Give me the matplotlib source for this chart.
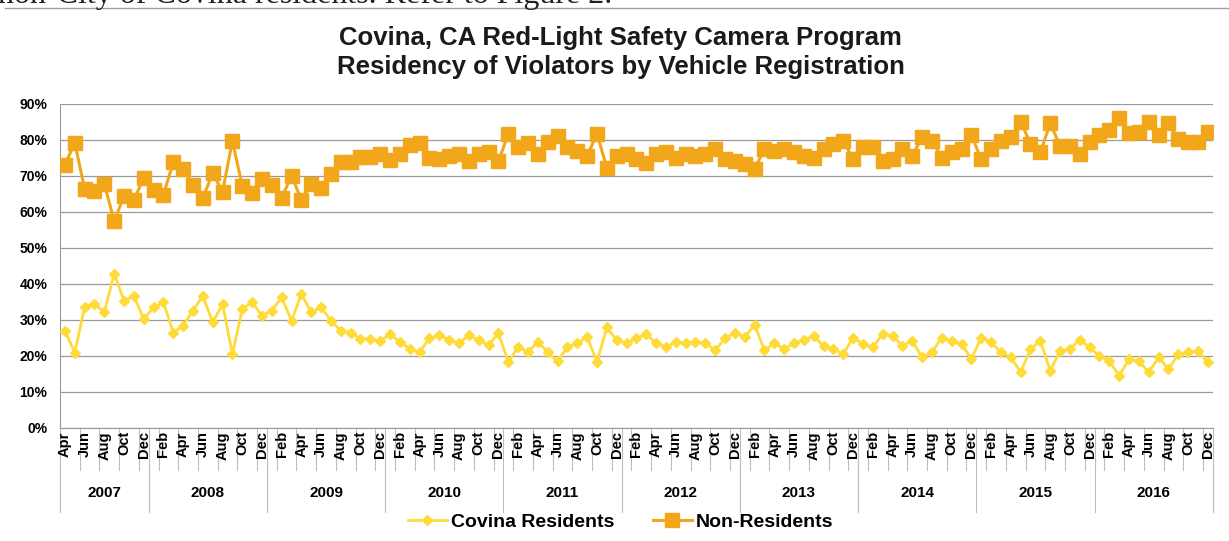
import matplotlib
matplotlib.use('Agg')
import matplotlib.pyplot as plt
import matplotlib.transforms as mtransforms
from matplotlib.lines import Line2D

# monthly shares, Apr 2007 .. Dec 2016 (percent)
years = [2007, 2008, 2009, 2010, 2011, 2012, 2013, 2014, 2015, 2016]
month_names = ['Jan', 'Feb', 'Mar', 'Apr', 'May', 'Jun',
               'Jul', 'Aug', 'Sep', 'Oct', 'Nov', 'Dec']
first_month = 3  # April 2007

non_residents = [
    73.1, 79.2, 66.4, 65.8, 67.8, 57.5, 64.3, 63.4, 69.3,                    # 2007
    66.2, 64.8, 73.8, 71.9, 67.6, 63.9, 70.7, 65.6, 79.7, 67.2, 65.3, 69.1,  # 2008
    67.6, 63.9, 70.0, 63.4, 67.8, 66.7, 70.5, 73.8, 73.8, 75.2, 75.2, 76.1,  # 2009
    74.4, 76.1, 78.5, 79.0, 75.0, 74.6, 75.5, 76.0, 74.0, 76.0, 76.5, 74.0,  # 2010
    81.7, 78.0, 79.0, 76.0, 79.3, 81.2, 78.0, 77.0, 75.5, 81.7, 72.3, 75.5,  # 2011
    76.0, 74.6, 73.7, 76.0, 76.5, 75.0, 76.0, 75.5, 76.0, 77.5, 74.6, 74.0,  # 2012
    73.2, 71.8, 77.5, 77.0, 77.5, 76.5, 75.6, 75.1, 77.5, 78.9, 79.8, 74.6,  # 2013
    78.0, 78.0, 74.2, 74.6, 77.5, 75.6, 80.8, 79.8, 75.1, 76.5, 77.5, 81.3,  # 2014
    74.6, 77.5, 79.8, 80.8, 85.1, 78.9, 76.5, 84.6, 78.4, 78.4, 76.1, 79.4,  # 2015
    81.3, 82.7, 86.0, 81.8, 82.2, 85.1, 81.3, 84.6, 80.3, 79.4, 79.4, 82.2,  # 2016
]

residents = [
    27.0, 20.9, 33.5, 34.4, 32.1, 42.8, 35.3, 36.7, 30.2,                    # 2007
    33.5, 34.9, 26.5, 28.4, 32.6, 36.7, 29.3, 34.4, 20.5, 33.0, 34.9, 31.2,  # 2008
    32.6, 36.3, 29.8, 37.2, 32.1, 33.5, 29.8, 27.0, 26.5, 24.7, 24.7, 24.2,  # 2009
    26.0, 23.9, 22.0, 21.0, 24.9, 25.8, 24.4, 23.5, 25.8, 24.4, 23.0, 26.3,  # 2010
    18.3, 22.5, 21.1, 23.9, 21.1, 18.5, 22.5, 23.5, 25.3, 18.3, 27.9, 24.4,  # 2011
    23.5, 24.9, 26.0, 23.5, 22.5, 23.9, 23.5, 23.9, 23.5, 21.6, 24.9, 26.3,  # 2012
    25.3, 28.6, 21.6, 23.5, 22.0, 23.5, 24.5, 25.4, 22.8, 21.9, 20.5, 25.1,  # 2013
    23.3, 22.4, 26.1, 25.6, 22.8, 24.2, 19.6, 21.0, 25.1, 24.2, 23.3, 19.1,  # 2014
    25.1, 23.8, 21.0, 19.6, 15.5, 21.9, 24.2, 15.9, 21.4, 21.9, 24.5, 22.4,  # 2015
    20.0, 18.6, 14.5, 19.1, 18.6, 15.4, 19.6, 16.3, 20.5, 21.0, 21.4, 18.2,  # 2016
]

yticks = [0, 10, 20, 30, 40, 50, 60, 70, 80, 90]

NR_COLOR = '#F2A71B'
RES_COLOR = '#FFDB3A'
GRID = '#9a9a9a'
BOLD = {'family': 'Liberation Sans', 'weight': 'bold'}
NARROW = ['Liberation Sans Narrow', 'Liberation Sans']

n = len(non_residents)
x = list(range(n))
months = [month_names[(first_month + i) % 12] for i in x]

fig = plt.figure(figsize=(12.29, 5.41), dpi=100)
ax = fig.add_axes([0.0488, 0.209, 0.938, 0.599])

ax.plot(x, residents, color=RES_COLOR, lw=2.0, marker='D', ms=5,
        mec=RES_COLOR, mfc=RES_COLOR, label='Covina Residents', zorder=3)
ax.plot(x, non_residents, color=NR_COLOR, lw=2.2, marker='s', ms=9.5,
        mec=NR_COLOR, mfc=NR_COLOR, label='Non-Residents', zorder=4)

ax.set_xlim(-0.5, n - 0.5)
ax.set_ylim(0, 90)
ax.set_yticks(yticks)
ax.set_yticklabels([f'{v}%' for v in yticks], fontdict=dict(BOLD, size=10))
ax.tick_params(axis='y', length=0, pad=9)
ax.grid(axis='y', color=GRID, lw=0.9)
ax.set_axisbelow(True)
for side in ('top', 'right'):
    ax.spines[side].set_visible(False)
ax.spines['left'].set_color(GRID)
ax.spines['bottom'].set_color(GRID)

# category axis: every other month label, year labels under them
ax.set_xticks([])
trans = mtransforms.blended_transform_factory(ax.transData, ax.transAxes)
for i in range(0, n, 2):
    ax.text(i, -0.01, months[i], transform=trans, rotation=90, ha='center',
            va='top', fontsize=10.5, family=NARROW, weight='bold')
for b in range(2, n, 2):
    ax.add_line(Line2D([b - 0.5, b - 0.5], [0, -0.13], transform=trans,
                       color='#bdbdbd', lw=0.8, clip_on=False))

year_starts = [0]
for y in years[1:]:
    year_starts.append(months.index('Jan', year_starts[-1] + 1))
year_edges = year_starts + [n]
for k, y in enumerate(years):
    mid = (year_edges[k] + year_edges[k + 1]) / 2 - 0.5
    ax.text(mid, -0.2, str(y), transform=trans, ha='center', va='center',
            fontsize=11, family=NARROW, weight='bold')
for e in year_edges:
    ax.add_line(Line2D([e - 0.5, e - 0.5], [0, -0.26], transform=trans,
                       color='#bdbdbd', lw=0.8, clip_on=False))

fig.text(0.505, 1 - 38 / 541, 'Covina, CA Red-Light Safety Camera Program',
         ha='center', va='center', fontsize=18.5, color='#1a1a1a', **BOLD)
fig.text(0.505, 1 - 67 / 541, 'Residency of Violators by Vehicle Registration',
         ha='center', va='center', fontsize=18.5, color='#1a1a1a', **BOLD)

leg = fig.legend(loc='center', bbox_to_anchor=(0.505, 0.035), ncol=2,
                 frameon=False, prop=dict(BOLD, size=14), handlelength=2.0,
                 handletextpad=0.2, columnspacing=2.0)

# running text from the page above the chart
fig.text(-0.002, 1 - 3.5 / 541, 'non-City of Covina residents. Refer to Figure 2.',
         ha='left', va='baseline', fontsize=23, family='Liberation Serif',
         color='#222222')
fig.add_artist(Line2D([0.004, 1.0], [1 - 7.5 / 541, 1 - 7.5 / 541],
                      transform=fig.transFigure, color='#a0a0a0', lw=1))

fig.savefig('out.png', dpi=100)
